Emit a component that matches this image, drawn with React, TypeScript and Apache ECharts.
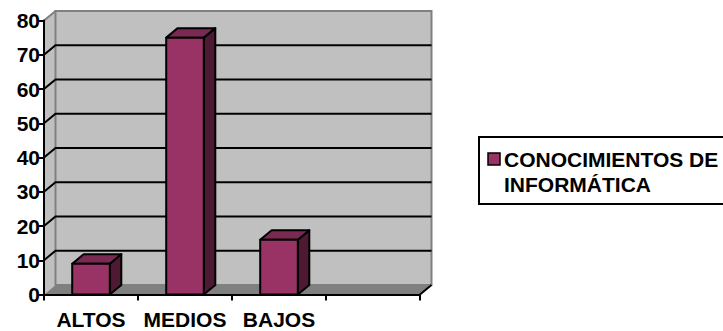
import React, { useEffect, useRef } from "react";
import * as echarts from "echarts";

// Categories and values of the survey
const CATEGORIES = ["ALTOS", "MEDIOS", "BAJOS", ""];
const VALUES = [9, 75, 16];
const SERIES_NAME = "CONOCIMIENTOS DE\nINFORMÁTICA";

// Value axis range
const Y_MIN = 0;
const Y_MAX = 80;
const Y_STEP = 10;

// 3D depth offset of the walls and columns
const DX = 11.5;
const DY = -9.5;

const FONT = "'Liberation Sans', Arial, Helvetica, sans-serif";
const BAR_FRONT = "#993366";
const BAR_TOP = "#7a2a52";
const BAR_SIDE = "#4e1a33";
const WALL = "#c0c0c0";
const FLOOR = "#808080";

export default function App() {
  const ref = useRef<HTMLDivElement>(null);

  useEffect(() => {
    if (!ref.current) return;
    const chart = echarts.init(ref.current, null, { renderer: "svg" });

    const ticks: number[] = [];
    for (let v = Y_MIN; v <= Y_MAX; v += Y_STEP) ticks.push(v);

    const renderWalls = (params: any, api: any) => {
      const cs = params.coordSys;
      const x0 = cs.x;
      const x1 = cs.x + cs.width;
      const yBottom = api.coord([0, Y_MIN])[1];
      const yTop = api.coord([0, Y_MAX])[1];
      const children: any[] = [];
      // side wall
      children.push({
        type: "polygon",
        shape: { points: [[x0, yTop], [x0 + DX, yTop + DY], [x0 + DX, yBottom + DY], [x0, yBottom]] },
        style: { fill: WALL, stroke: null },
      });
      // back wall
      children.push({
        type: "rect",
        shape: { x: x0 + DX, y: yTop + DY, width: x1 - x0, height: yBottom - yTop },
        style: { fill: WALL, stroke: FLOOR, lineWidth: 2 },
      });
      // floor
      children.push({
        type: "polygon",
        shape: { points: [[x0, yBottom], [x1, yBottom], [x1 + DX, yBottom + DY], [x0 + DX, yBottom + DY]] },
        style: { fill: FLOOR, stroke: null },
      });
      // gridlines across side and back walls
      ticks.forEach((v) => {
        if (v === Y_MIN || v === Y_MAX) return;
        const y = api.coord([0, v])[1];
        children.push({
          type: "polyline",
          shape: { points: [[x0, y], [x0 + DX, y + DY], [x1 + DX, y + DY]] },
          style: { stroke: "#000", lineWidth: 2, fill: null },
        });
      });
      // top edge of the side wall
      children.push({
        type: "line",
        shape: { x1: x0, y1: yTop, x2: x0 + DX, y2: yTop + DY },
        style: { stroke: FLOOR, lineWidth: 2 },
      });
      // right edge of the floor
      children.push({
        type: "line",
        shape: { x1: x1, y1: yBottom, x2: x1 + DX, y2: yBottom + DY },
        style: { stroke: "#000", lineWidth: 2 },
      });
      return { type: "group", children };
    };

    const renderBar = (_params: any, api: any) => {
      const i = api.value(0);
      const v = api.value(1);
      const top = api.coord([i, v]);
      const base = api.coord([i, Y_MIN]);
      const w = api.size([1, 0])[0] * 0.4;
      const l = top[0] - w / 2;
      const r = top[0] + w / 2;
      const yt = top[1];
      const yb = base[1];
      const edge = { stroke: "#000", lineWidth: 2, lineJoin: "round" };
      return {
        type: "group",
        children: [
          {
            type: "polygon",
            shape: { points: [[r, yt], [r + DX, yt + DY], [r + DX, yb + DY], [r, yb]] },
            style: { fill: BAR_SIDE, ...edge },
          },
          {
            type: "polygon",
            shape: { points: [[l, yt], [r, yt], [r + DX, yt + DY], [l + DX, yt + DY]] },
            style: { fill: BAR_TOP, ...edge },
          },
          {
            type: "rect",
            shape: { x: l, y: yt, width: w, height: yb - yt },
            style: { fill: BAR_FRONT, ...edge },
          },
        ],
      };
    };

    chart.setOption({
      animation: false,
      backgroundColor: "#ffffff",
      grid: { left: 44, top: 20.5, right: 303, bottom: 36.5 },
      xAxis: {
        type: "category",
        data: CATEGORIES,
        z: 10,
        axisLine: { lineStyle: { color: "#000", width: 2 } },
        axisTick: { show: true, length: 6, lineStyle: { color: "#000", width: 2 } },
        axisLabel: {
          interval: 0,
          margin: 14,
          color: "#000",
          fontFamily: FONT,
          fontWeight: "bold",
          fontSize: 21,
        },
        splitLine: { show: false },
      },
      yAxis: {
        type: "value",
        min: Y_MIN,
        max: Y_MAX,
        interval: Y_STEP,
        z: 10,
        axisLine: { show: true, lineStyle: { color: "#000", width: 2 } },
        axisTick: { show: true, length: 5, lineStyle: { color: "#000", width: 2 } },
        axisLabel: {
          margin: 4,
          color: "#000",
          fontFamily: FONT,
          fontWeight: "bold",
          fontSize: 21,
        },
        splitLine: { show: false },
      },
      series: [
        {
          type: "custom",
          name: "walls",
          z: 1,
          silent: true,
          data: [[0, Y_MIN]],
          encode: { x: 0, y: 1 },
          renderItem: renderWalls,
        },
        {
          type: "custom",
          name: SERIES_NAME,
          z: 2,
          data: VALUES.map((v, i) => [i, v]),
          encode: { x: 0, y: 1 },
          renderItem: renderBar,
        },
      ],
      graphic: [
        {
          type: "group",
          left: 478,
          top: 136,
          children: [
            {
              type: "rect",
              shape: { x: 0, y: 0, width: 270, height: 67 },
              style: { fill: "#fff", stroke: "#000", lineWidth: 2 },
            },
            {
              type: "rect",
              shape: { x: 9, y: 16, width: 12, height: 12 },
              style: { fill: BAR_FRONT, stroke: "#000", lineWidth: 1.5 },
            },
            {
              type: "text",
              x: 25,
              y: 10,
              style: {
                text: SERIES_NAME,
                fill: "#000",
                font: `bold 21px ${FONT}`,
                lineHeight: 25,
                verticalAlign: "top",
              },
            },
          ],
        },
      ],
    });

    return () => chart.dispose();
  }, []);

  return (
    <div
      ref={ref}
      style={{ position: "fixed", left: 0, top: 0, width: 723, height: 331, background: "#fff" }}
    />
  );
}
